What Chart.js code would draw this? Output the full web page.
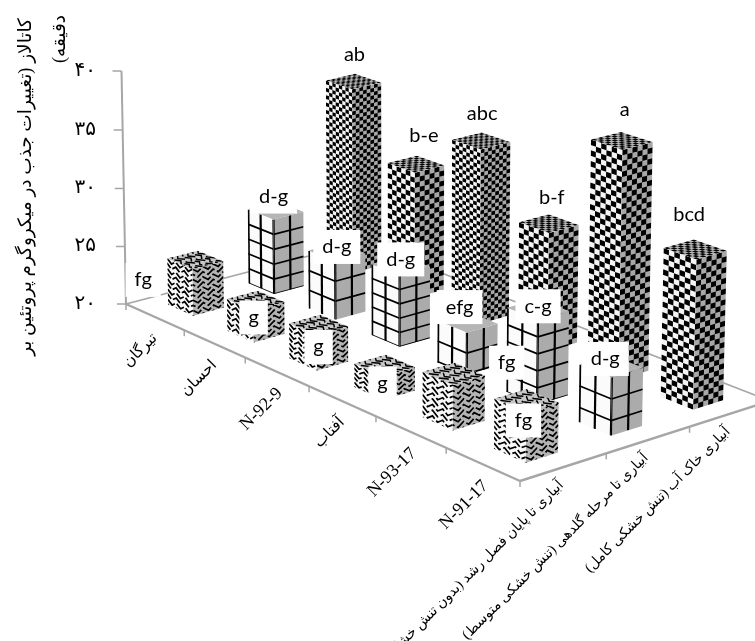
<!DOCTYPE html>
<html>
<head>
<meta charset="utf-8">
<title>catalase</title>
<script src="https://cdn.jsdelivr.net/npm/chart.js@4/dist/chart.umd.js"></script>
<style>
  html, body { margin: 0; padding: 0; background: #fff; }
  canvas { display: block; filter: blur(0.4px); }
</style>
</head>
<body>
<canvas id="myChart" width="755" height="641"></canvas>
<script>
// data
const cultivars = ['تیرگان', 'احسان', 'N-92-9', 'آفتاب', 'N-93-17', 'N-91-17'];
const treatments = [
  'آبیاری تا پایان فصل رشد (بدون تنش خشکی)',
  'آبیاری تا مرحله گلدهی (تنش خشکی متوسط)',
  'آبیاری خاک آب (تنش خشکی کامل)'
];
const fullIrrigation = [24.0, 22.7, 22.9, 21.9, 23.6, 23.9];
const floweringIrrigation = [26.5, 25, 26, 23.5, 26.8, 24.6];
const soilWaterIrrigation = [36.1, 30.8, 34.7, 29.8, 38.5, 31.9];
const fullLetters = ['fg', 'g', 'g', 'g', 'fg', 'fg'];
const floweringLetters = ['d-g', 'd-g', 'd-g', 'efg', 'c-g', 'd-g'];
const soilWaterLetters = ['ab', 'b-e', 'abc', 'b-f', 'a', 'bcd'];
const yTickLabels = ['۲۰', '۲۵', '۳۰', '۳۵', '۴۰'];
const yTitle = ['کاتالاز (تغییرات جذب در میکروگرم پروتئین بر', 'دقیقه)\u200F'];

// floor corners of the 3d box and vanishing point of the verticals
const floor = [[126, 304], [520, 481], [770, 401], [362, 242]];
const vanish = [390, 14000];
const barDepthU = 0.43, barDepthV = 0.375;

const [p0, p1, p2, p3] = floor;
const dx1 = p1[0] - p2[0], dx2 = p3[0] - p2[0], sx = p0[0] - p1[0] + p2[0] - p3[0];
const dy1 = p1[1] - p2[1], dy2 = p3[1] - p2[1], sy = p0[1] - p1[1] + p2[1] - p3[1];
const det = dx1 * dy2 - dx2 * dy1;
const hg = (sx * dy2 - dx2 * sy) / det, hh = (dx1 * sy - sx * dy1) / det;
const ha = p1[0] - p0[0] + hg * p1[0], hb = p3[0] - p0[0] + hh * p3[0];
const hd = p1[1] - p0[1] + hg * p1[1], he = p3[1] - p0[1] + hh * p3[1];

function project(chart, u, v, w) {
  const y = chart.scales.y;
  const s = (y.top - y.bottom) / (vanish[1] - y.top);
  const den = hg * u + hh * v + 1 + s * w;
  return [
    (ha * u + hb * v + p0[0] + s * vanish[0] * w) / den,
    (hd * u + he * v + p0[1] + s * vanish[1] * w) / den
  ];
}
// scales -> box coordinates
const uOf = (chart, i) => (chart.scales.x.getPixelForValue(i) - chart.scales.x.left) / chart.scales.x.width;
const vOf = (chart, j) => (chart.scales.depth.getPixelForValue(j) - chart.scales.depth.left) / chart.scales.depth.width;
const wOf = (chart, val) => (chart.scales.y.bottom - chart.scales.y.getPixelForValue(val)) / (chart.scales.y.bottom - chart.scales.y.top);

function poly(ctx, pts) {
  ctx.beginPath();
  pts.forEach((p, i) => i ? ctx.lineTo(p[0], p[1]) : ctx.moveTo(p[0], p[1]));
  ctx.closePath();
}

function checker(ctx, map, cols, rows) {
  ctx.fillStyle = '#000';
  for (let a = 0; a < cols; a++) {
    for (let b = 0; b < rows; b++) {
      if ((a + b) % 2) continue;
      poly(ctx, [map(a / cols, b / rows), map((a + 1) / cols, b / rows), map((a + 1) / cols, (b + 1) / rows), map(a / cols, (b + 1) / rows)]);
      ctx.fill();
    }
  }
}

// broken zigzag bands, close to the woven hatch of the original
function weave(ctx, map, cols, rows, lw) {
  ctx.strokeStyle = '#000';
  ctx.lineWidth = lw;
  ctx.setLineDash([10, 2.5]);
  for (let b = -2; b <= rows + 2; b++) {
    ctx.beginPath();
    for (let a = -(b % 2); a <= cols; a++) {
      const p = map(a / cols, (b + ((a + 2) % 2) * 0.75) / rows);
      a === -(b % 2) ? ctx.moveTo(p[0], p[1]) : ctx.lineTo(p[0], p[1]);
    }
    ctx.stroke();
  }
  ctx.setLineDash([]);
}

function gridLines(ctx, map, columns, rowStep) {
  ctx.strokeStyle = '#000';
  ctx.lineWidth = 2.2;
  columns.forEach(s => {
    const a = map(s, 0), b = map(s, 1);
    ctx.beginPath(); ctx.moveTo(a[0], a[1]); ctx.lineTo(b[0], b[1]); ctx.stroke();
  });
  ctx.lineWidth = 1.7;
  for (let t = rowStep; t < 1.001; t += rowStep) {
    const a = map(0, t), b = map(1, t);
    ctx.beginPath(); ctx.moveTo(a[0], a[1]); ctx.lineTo(b[0], b[1]); ctx.stroke();
  }
}

class Bar3dController extends Chart.BarController {
  draw() {
    const chart = this.chart, ctx = chart.ctx, ds = this.getDataset();
    const v = vOf(chart, ds.depthIndex);
    this.getMeta().data.forEach((el, i) => {
      const u = uOf(chart, i), val = this.getParsed(i).y;
      const w = wOf(chart, val), units = val - chart.scales.y.min;
      const cu = barDepthU / chart.data.labels.length, cv = barDepthV / treatments.length;
      const u0 = u - cu / 2, u1 = u + cu / 2, v0 = v - cv / 2, v1 = v + cv / 2;
      // s runs across the face, t from the top of the bar down to the floor
      const left = (s, t) => project(chart, u0 + (u1 - u0) * s, v0, w * (1 - t));
      const right = (s, t) => project(chart, u1, v0 + (v1 - v0) * s, w * (1 - t));
      const top = (s, t) => project(chart, u0 + (u1 - u0) * s, v1 + (v0 - v1) * t, w);
      const face = (map, bg, paint) => {
        ctx.save();
        poly(ctx, [map(0, 0), map(1, 0), map(1, 1), map(0, 1)]);
        ctx.fillStyle = bg;
        ctx.fill();
        ctx.clip();
        paint(map);
        ctx.restore();
      };
      if (ds.texture === 'checker') {
        const cols = ds.checkerCols[i], rows = Math.round(units * 11.7 / (30 / cols));
        face(left, '#f4f4f4', m => checker(ctx, m, cols, rows));
        face(right, '#a8a8a8', m => checker(ctx, m, cols, rows));
        face(top, '#b8b8b8', m => checker(ctx, m, cols + 3, cols + 3));
      } else if (ds.texture === 'grid') {
        const step = (units >= 5.5 ? units / 5 : 1.7) / units;
        face(left, '#fbfbfb', m => gridLines(ctx, m, [0.02, 0.5, 1], step));
        face(right, '#ababab', m => gridLines(ctx, m, [0, 0.55], step));
        face(top, '#b5b5b5', () => {});
      } else {
        const rows = Math.max(5, Math.round(units * 11.7 / 5.2));
        face(left, '#f8f8f8', m => weave(ctx, m, 6, rows, 1.7));
        face(right, '#b4b4b4', m => weave(ctx, m, 6, rows, 1.7));
        face(top, '#c8c8c8', m => weave(ctx, m, 6, 6, 1.5));
      }
    });
  }
}
Bar3dController.id = 'bar3d';
Bar3dController.defaults = Chart.BarController.defaults;
Bar3dController.overrides = Chart.BarController.overrides;
Chart.register(Bar3dController);

const axisColor = '#a6a6a6';
const arabicFont = '"Liberation Serif","DejaVu Sans"';

const boxPlugin = {
  id: 'box3d',
  beforeDatasetsDraw(chart) {
    const ctx = chart.ctx, n = cultivars.length, m = treatments.length;
    const line = (a, b, lw) => {
      ctx.lineWidth = lw;
      ctx.beginPath(); ctx.moveTo(a[0], a[1]); ctx.lineTo(b[0], b[1]); ctx.stroke();
    };
    ctx.save();
    ctx.strokeStyle = axisColor;
    line(project(chart, 0, 0, 0), project(chart, 1, 0, 0), 2.4);
    line(project(chart, 1, 0, 0), project(chart, 1, 1, 0), 2.4);
    line(project(chart, 0, 0, 0), project(chart, 0, 1, 0), 1.8);
    line(project(chart, 0, 1, 0), project(chart, 1, 1, 0), 1.8);
    line(project(chart, 0, 0, 0), project(chart, 0, 0, 1), 2);
    // y ticks
    chart.scales.y.ticks.forEach(t => {
      const p = project(chart, 0, 0, wOf(chart, t.value));
      line(p, [p[0] - 9, p[1]], 1.5);
    });
    // floor ticks
    for (let k = 0; k <= n; k++) {
      const p = project(chart, k / n, 0, 0);
      line(p, [p[0], p[1] + 6], 1.5);
    }
    for (let k = 1; k <= m; k++) {
      const p = project(chart, 1, k / m, 0);
      line(p, [p[0], p[1] + 6], 1.5);
    }
    ctx.restore();
  },
  afterDatasetsDraw(chart) {
    const ctx = chart.ctx;
    // category names along the two floor edges
    ctx.save();
    ctx.fillStyle = '#000';
    ctx.textAlign = 'right';
    ctx.textBaseline = 'middle';
    cultivars.forEach((name, i) => {
      const p = project(chart, uOf(chart, i), 0, 0);
      const latin = /[A-Z]/.test(name);
      ctx.font = (latin ? '18px ' : '15.5px ') + arabicFont;
      ctx.save();
      ctx.translate(p[0] + (latin ? 3 : 0), p[1] + 19);
      ctx.rotate(-Math.PI / 4);
      ctx.fillText(name, 0, 0);
      ctx.restore();
    });
    ctx.font = '14px ' + arabicFont;
    treatments.forEach((name, j) => {
      const p = project(chart, 1, vOf(chart, j), 0);
      ctx.save();
      ctx.translate(p[0] - 2, p[1] + 16);
      ctx.rotate(-Math.PI / 4);
      ctx.fillText(name, 0, 0);
      ctx.restore();
    });
    // y title, two lines running bottom to top
    ctx.font = '18.5px ' + arabicFont;
    ctx.textAlign = 'center';
    ctx.save();
    ctx.translate(26, 187);
    ctx.rotate(-Math.PI / 2);
    ctx.fillText(yTitle[0], 0, 0);
    ctx.restore();
    ctx.save();
    ctx.translate(60, 15);
    ctx.rotate(-Math.PI / 2);
    ctx.textAlign = 'right';
    ctx.fillText(yTitle[1], 0, 0);
    ctx.restore();
    // significance letters with their white boxes
    ctx.font = '20px Lato';
    ctx.textAlign = 'center';
    chart.data.datasets.forEach(ds => {
      const v = vOf(chart, ds.depthIndex);
      ds.data.forEach((val, i) => {
        const p = project(chart, uOf(chart, i), v, wOf(chart, val));
        const x = p[0] + ds.labelNudge[i][0], y = p[1] + ds.labelNudge[i][1];
        const tw = ctx.measureText(ds.letters[i]).width;
        ctx.fillStyle = '#fff';
        ctx.fillRect(x - tw / 2 - 9, y - 17, tw + 18, 34);
        ctx.fillStyle = '#000';
        ctx.fillText(ds.letters[i], x, y);
      });
    });
    ctx.restore();
  }
};

new Chart(document.getElementById('myChart'), {
  type: 'bar3d',
  data: {
    labels: cultivars,
    datasets: [
      { label: treatments[0], data: fullIrrigation, letters: fullLetters, depthIndex: 0, texture: 'weave', clip: false,
        labelNudge: [[-52, 20], [-2, 17], [0, 22], [-2, 18], [53, -11], [-3, 20]] },
      { label: treatments[1], data: floweringIrrigation, letters: floweringLetters, depthIndex: 1, texture: 'grid', clip: false,
        labelNudge: [[-2, -14], [0, -5], [0, -6], [-8, -15], [0, -3], [-6, -7]] },
      { label: treatments[2], data: soilWaterIrrigation, letters: soilWaterLetters, depthIndex: 2, texture: 'checker', clip: false,
        checkerCols: [8, 6, 8, 6, 6, 6],
        labelNudge: [[1, -27], [8, -29], [1, -27], [3, -26], [3, -31], [-6, -35]] }
    ]
  },
  options: {
    responsive: false,
    animation: false,
    layout: { padding: { top: 71, bottom: 337, left: 0, right: 0 } },
    plugins: { legend: { display: false }, tooltip: { enabled: false } },
    scales: {
      x: { type: 'category', labels: cultivars, offset: true, display: false },
      depth: { type: 'category', axis: 'x', labels: treatments, offset: true, display: false },
      y: {
        type: 'linear', min: 20, max: 40,
        afterFit: s => { s.width = 118; },
        grid: { display: false, drawTicks: false },
        border: { display: false },
        ticks: {
          stepSize: 5,
          padding: 22,
          color: '#000',
          font: { family: arabicFont, size: 20 },
          callback: (value, i) => yTickLabels[i]
        }
      }
    }
  },
  plugins: [boxPlugin]
});
</script>
</body>
</html>
